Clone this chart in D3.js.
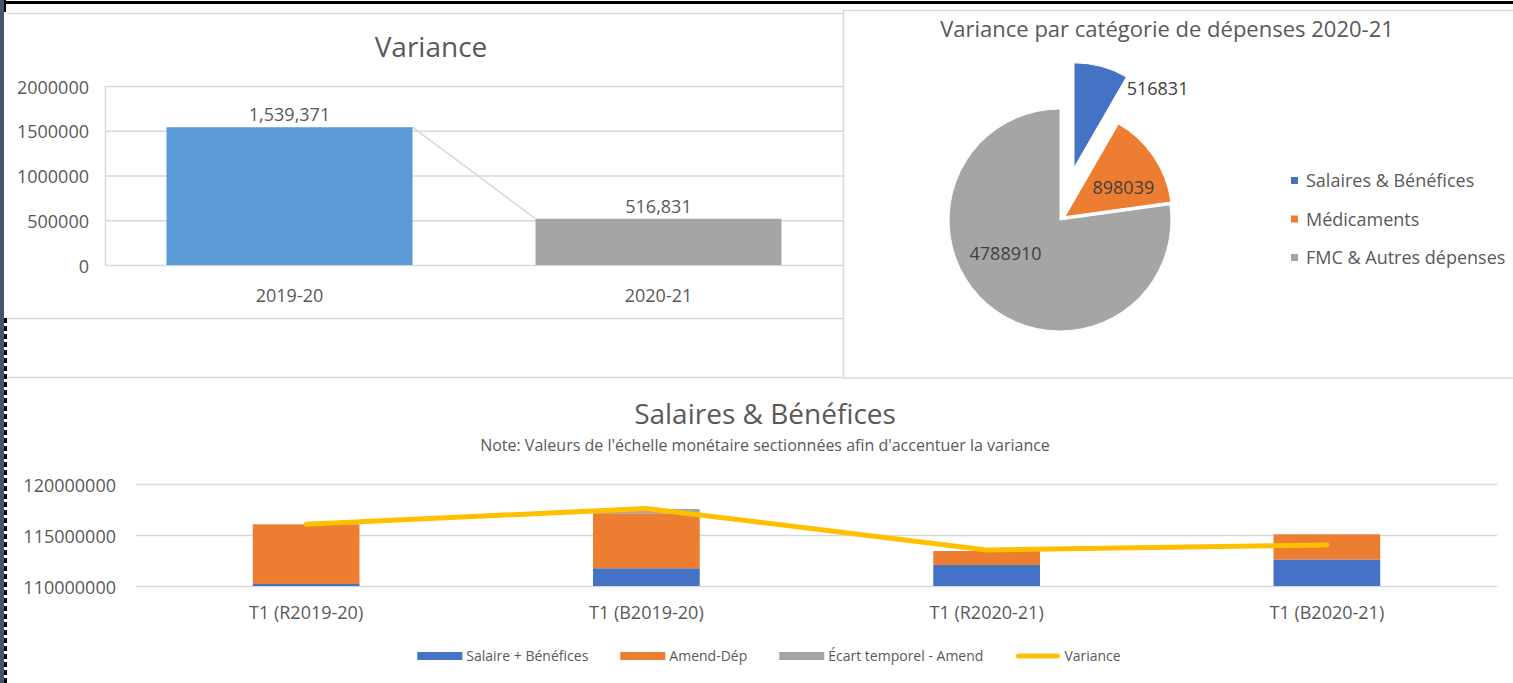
<!DOCTYPE html>
<html>
<head>
<meta charset="utf-8">
<script src="https://cdn.jsdelivr.net/npm/d3@7"></script>
<style>
  body { margin: 0; background: #fff; }
  svg { display: block; font-family: 'Open Sans', sans-serif; }
</style>
</head>
<body>
<svg id="board" width="1513" height="683"></svg>
<script>
// Variance totals by fiscal year
const years = ["2019-20", "2020-21"];
const yearVariance = [1539371, 516831];
const varianceTicks = [0, 500000, 1000000, 1500000, 2000000];

// 2020-21 variance split by expense category
const expenseCategories = ["Salaires & Bénéfices", "Médicaments", "FMC & Autres dépenses"];
const expenseVariance = [516831, 898039, 4788910];

// Salaries & benefits, first quarter: actuals (R) and budget (B)
const quarters = ["T1 (R2019-20)", "T1 (B2019-20)", "T1 (R2020-21)", "T1 (B2020-21)"];
const salaire = [110200000, 111740000, 112060000, 112600000];
const amendDep = [5850000, 5390000, 1370000, 2470000];
const ecartTemporel = [0, 420000, 0, 0];
const varianceLine = [116050000, 117600000, 113530000, 114020000];
const salaryTicks = [110000000, 115000000, 120000000];
const salarySeries = ["Salaire + Bénéfices", "Amend-Dép", "Écart temporel - Amend", "Variance"];

const TEXT = "#595959";
const GRID = "#d9d9d9";
const svg = d3.select("#board");

// ---------- page frame ----------
svg.append("rect").attr("x", 0).attr("y", 0).attr("width", 1513).attr("height", 683).attr("fill", "#fff");
svg.append("rect").attr("x", 0).attr("y", 0).attr("width", 4).attr("height", 683).attr("fill", "#44546a");
svg.append("line").attr("x1", 5.5).attr("x2", 5.5).attr("y1", 318).attr("y2", 683)
  .attr("stroke", "#000").attr("stroke-width", 3).attr("stroke-dasharray", "5,3");
svg.append("rect").attr("x", 6).attr("y", 1).attr("width", 1507).attr("height", 3).attr("fill", "#000");
svg.append("rect").attr("x", 4).attr("y", 0).attr("width", 2).attr("height", 12).attr("fill", "#000");

const frame = svg.append("g").attr("stroke", GRID).attr("stroke-width", 1.5).attr("fill", "none");
frame.append("line").attr("x1", 7).attr("x2", 843).attr("y1", 13.5).attr("y2", 13.5);
frame.append("line").attr("x1", 7).attr("x2", 843).attr("y1", 318.5).attr("y2", 318.5);
frame.append("line").attr("x1", 7).attr("x2", 843).attr("y1", 377.5).attr("y2", 377.5);
frame.append("rect").attr("x", 843.5).attr("y", 10.5).attr("width", 700).attr("height", 367.5);

// ---------- Variance by year (waterfall-style columns) ----------
{
  const g = svg.append("g");
  const x = d3.scaleBand().domain(years).range([105, 843]).paddingInner(1 / 3).paddingOuter(1 / 6);
  const y = d3.scaleLinear().domain([0, 2000000]).range([265, 86]);
  const colors = ["#5B9BD5", "#A5A5A5"];

  g.append("text").attr("x", 431).attr("y", 57).attr("text-anchor", "middle")
    .attr("font-size", 28).attr("fill", TEXT).text("Variance");

  g.selectAll(".grid").data(varianceTicks).join("line")
    .attr("x1", 105).attr("x2", 843)
    .attr("y1", d => y(d) + 0.5).attr("y2", d => y(d) + 0.5)
    .attr("stroke", GRID).attr("stroke-width", 1.5);
  g.append("line").attr("x1", 105.5).attr("x2", 105.5).attr("y1", y(2000000)).attr("y2", y(0))
    .attr("stroke", GRID).attr("stroke-width", 1.5);

  const yAxis = g.append("g").attr("transform", "translate(89,0)")
    .call(d3.axisLeft(y).tickValues(varianceTicks).tickSize(0).tickPadding(0).tickFormat(d3.format("d")));
  yAxis.select(".domain").remove();
  yAxis.selectAll("text").attr("font-size", 18).attr("fill", TEXT).attr("font-family", "'Open Sans', sans-serif")
    .attr("dy", "0.4em");

  const rows = years.map((k, i) => ({ k, v: yearVariance[i], i }));

  // connector between the two column tops
  g.append("line")
    .attr("x1", x(years[0]) + x.bandwidth()).attr("y1", y(yearVariance[0]))
    .attr("x2", x(years[1])).attr("y2", y(yearVariance[1]))
    .attr("stroke", GRID).attr("stroke-width", 1.5);

  g.selectAll(".bar").data(rows).join("rect")
    .attr("x", d => x(d.k)).attr("width", x.bandwidth())
    .attr("y", d => y(d.v)).attr("height", d => y(0) - y(d.v))
    .attr("fill", d => colors[d.i]);

  g.selectAll(".val").data(rows).join("text")
    .attr("x", d => x(d.k) + x.bandwidth() / 2).attr("y", d => y(d.v) - 6)
    .attr("text-anchor", "middle").attr("font-size", 18).attr("fill", TEXT)
    .text(d => d3.format(",")(d.v));

  g.selectAll(".cat").data(years).join("text")
    .attr("x", d => x(d) + x.bandwidth() / 2).attr("y", 302)
    .attr("text-anchor", "middle").attr("font-size", 18).attr("fill", TEXT).text(d => d);
}

// ---------- Pie: variance by expense category ----------
{
  const g = svg.append("g");
  const cx = 1060, cy = 220;
  const colors = ["#4472C4", "#ED7D31", "#A5A5A5"];
  const sliceRadius = [105, 107, 111];
  const explode = [54, 6, 0];
  const labelNudge = [[70, -29], [14, 1], [-18, -8]];

  g.append("text").attr("x", 1167).attr("y", 37).attr("text-anchor", "middle")
    .attr("font-size", 22).attr("fill", TEXT).text("Variance par catégorie de dépenses 2020-21");

  const pie = d3.pie().sort(null).value(d => d.v);
  const arcs = pie(expenseCategories.map((k, i) => ({ k, v: expenseVariance[i], i })));
  const arc = d3.arc().innerRadius(0).outerRadius((d) => sliceRadius[d.index]);
  const shift = d => {
    const m = (d.startAngle + d.endAngle) / 2;
    return [Math.sin(m) * explode[d.index], -Math.cos(m) * explode[d.index]];
  };

  const pg = g.append("g").attr("transform", `translate(${cx},${cy})`);
  pg.selectAll("path").data(arcs).join("path")
    .attr("transform", d => `translate(${shift(d)})`)
    .attr("d", arc)
    .attr("fill", d => colors[d.index])
    .attr("stroke", "#fff").attr("stroke-width", 1);

  pg.selectAll(".lbl").data(arcs).join("text")
    .attr("transform", d => {
      const s = shift(d), c = arc.centroid(d), n = labelNudge[d.index];
      return `translate(${s[0] + c[0] + n[0]},${s[1] + c[1] + n[1]})`;
    })
    .attr("text-anchor", "middle").attr("dy", "0.36em")
    .attr("font-size", 18).attr("fill", "#404040")
    .text(d => d.data.v);

  const lg = g.append("g");
  expenseCategories.forEach((c, i) => {
    const yy = 181 + i * 38.5;
    lg.append("rect").attr("x", 1291).attr("y", yy - 4).attr("width", 7).attr("height", 7).attr("fill", colors[i]);
    lg.append("text").attr("x", 1306).attr("y", yy).attr("dy", "0.36em")
      .attr("font-size", 18).attr("fill", TEXT).text(c);
  });
}

// ---------- Salaries & benefits: stacked columns + variance line ----------
{
  const g = svg.append("g");
  const x = d3.scaleBand().domain(quarters).range([136, 1497]).paddingInner(0.6864).paddingOuter(0.3432);
  const y = d3.scaleLinear().domain([110000000, 120000000]).range([586, 484]).clamp(true);
  const colors = ["#4472C4", "#ED7D31", "#A5A5A5", "#FFC000"];

  g.append("text").attr("x", 765).attr("y", 424).attr("text-anchor", "middle")
    .attr("font-size", 28).attr("fill", TEXT).text("Salaires & Bénéfices");
  g.append("text").attr("x", 765).attr("y", 451).attr("text-anchor", "middle")
    .attr("font-size", 16).attr("fill", TEXT)
    .text("Note: Valeurs de l'échelle monétaire sectionnées afin d'accentuer la variance");

  g.selectAll(".grid").data(salaryTicks).join("line")
    .attr("x1", 136).attr("x2", 1497)
    .attr("y1", d => y(d) + 0.5).attr("y2", d => y(d) + 0.5)
    .attr("stroke", GRID).attr("stroke-width", 1.5);

  const yAxis = g.append("g").attr("transform", "translate(116,0)")
    .call(d3.axisLeft(y).tickValues(salaryTicks).tickSize(0).tickPadding(0).tickFormat(d3.format("d")));
  yAxis.select(".domain").remove();
  yAxis.selectAll("text").attr("font-size", 18).attr("fill", TEXT).attr("font-family", "'Open Sans', sans-serif")
    .attr("dy", "0.4em");

  const table = quarters.map((q, i) => ({ q, s: salaire[i], a: amendDep[i], e: ecartTemporel[i] }));
  const stacked = d3.stack().keys(["s", "a", "e"])(table);

  stacked.forEach((layer, li) => {
    g.append("g").selectAll("rect").data(layer).join("rect")
      .attr("x", d => x(d.data.q)).attr("width", x.bandwidth())
      .attr("y", d => y(d[1])).attr("height", d => y(d[0]) - y(d[1]))
      .attr("fill", colors[li]);
  });

  const line = d3.line().x((d, i) => x(quarters[i]) + x.bandwidth() / 2).y(d => y(d));
  g.append("path").datum(varianceLine).attr("d", line)
    .attr("fill", "none").attr("stroke", colors[3]).attr("stroke-width", 5)
    .attr("stroke-linecap", "round").attr("stroke-linejoin", "round");

  g.selectAll(".cat").data(quarters).join("text")
    .attr("x", d => x(d) + x.bandwidth() / 2).attr("y", 619)
    .attr("text-anchor", "middle").attr("font-size", 18).attr("fill", TEXT).text(d => d);

  // legend, laid out from measured label widths and centred under the chart
  const lg = g.append("g");
  const items = salarySeries.map((s, i) => {
    const it = lg.append("g");
    if (i < 3) {
      it.append("rect").attr("x", 0).attr("y", -4).attr("width", 45).attr("height", 8).attr("fill", colors[i]);
    } else {
      it.append("line").attr("x1", 3).attr("x2", 42).attr("y1", 0).attr("y2", 0)
        .attr("stroke", colors[i]).attr("stroke-width", 5).attr("stroke-linecap", "round");
    }
    const t = it.append("text").attr("x", 49).attr("dy", "0.36em")
      .attr("font-size", 14).attr("fill", TEXT).text(s);
    return { it, w: 49 + t.node().getComputedTextLength() };
  });
  const gap = 32;
  const total = d3.sum(items, d => d.w) + gap * (items.length - 1);
  let cursor = 769 - total / 2;
  items.forEach(d => { d.it.attr("transform", `translate(${cursor},656)`); cursor += d.w + gap; });
}
</script>
</body>
</html>
